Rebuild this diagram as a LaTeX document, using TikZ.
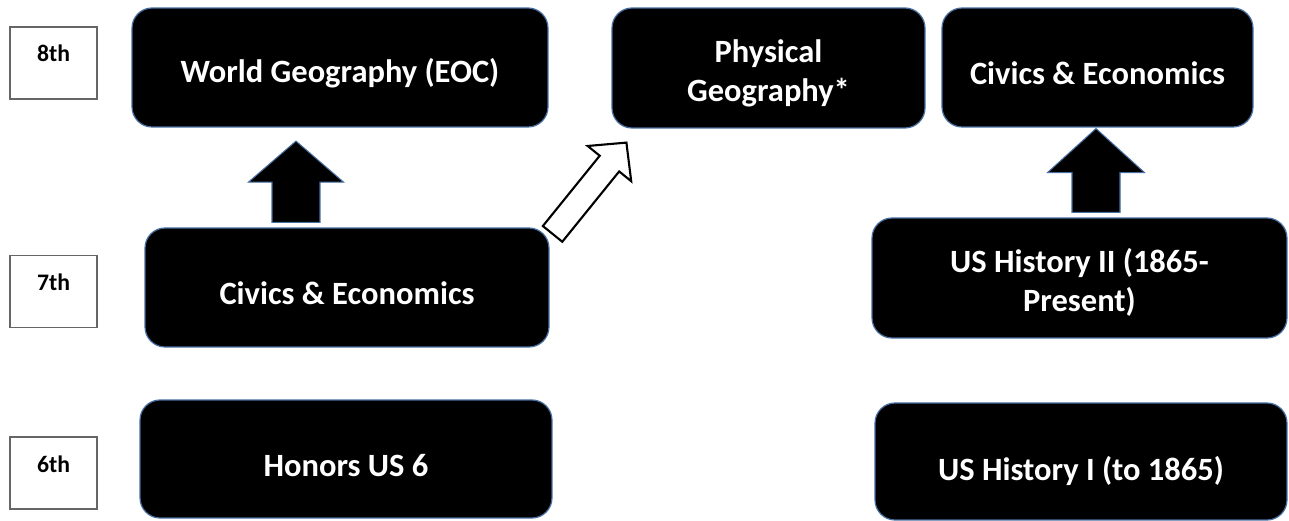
\documentclass[tikz,border=0pt]{standalone}
\usepackage{fontspec}
\setmainfont{Carlito}
\usetikzlibrary{calc}

\definecolor{edgeblue}{RGB}{70,110,160}

% style, tail, tip, half shaft, half head, head length
\newcommand{\blockarrow}[6]{%
  \coordinate (hb) at ($(#3)!#6!(#2)$);
  \draw[#1] ($(#2)!#4!90:(#3)$) -- ($(hb)!#4!90:(#3)$) -- ($(hb)!#5!90:(#3)$)
    -- (#3) -- ($(hb)!#5!-90:(#3)$) -- ($(hb)!#4!-90:(#3)$) -- ($(#2)!#4!-90:(#3)$) -- cycle;
}

\begin{document}
\begin{tikzpicture}[x=0.02cm, y=0.02cm,
  course/.style={rectangle, rounded corners=0.4cm, fill=black, draw=edgeblue, line width=0.7pt,
    text=white, align=center, inner sep=0pt,
    font=\bfseries\fontsize{18.5}{22.5}\selectfont,
    execute at begin node={\rule{0pt}{20pt}}},
  grade/.style={rectangle, draw=black!60, line width=0.8pt, fill=white,
    minimum width=1.74cm, inner xsep=0pt, inner ysep=0.3cm,
    text height=0.4cm, text depth=0.44cm,
    font=\bfseries\fontsize{13.5}{16}\selectfont}]

\useasboundingbox[fill=white] (0, 0) rectangle (1289, 521);

\node[grade] (g8) at (53.5, 458) {8th};
\node[grade] (g7) at (53.5, 229.5) {7th};
\node[grade] (g6) at (53.5, 48) {6th};

\node[course, minimum width=8.32cm, minimum height=2.38cm] (wg) at (340, 453.5) {World Geography (EOC)};
\node[course, minimum width=6.26cm, minimum height=2.40cm] (pg) at (768.5, 453) {\rule{0pt}{19pt}Physical\\Geography*};
\node[course, minimum width=6.22cm, minimum height=2.38cm] (ce8) at (1097.5, 453.5) {Civics \& Economics};

\node[course, minimum width=8.08cm, minimum height=2.38cm] (ce7) at (347, 233.5) {Civics \& Economics};
\node[course, minimum width=8.30cm, minimum height=2.40cm] (us2) at (1079.5, 243) {\rule{0pt}{19pt}US History II (1865-\\Present)};

\node[course, minimum width=8.24cm, minimum height=2.36cm] (hus6) at (346, 62) {Honors US 6};
\node[course, minimum width=8.24cm, minimum height=2.34cm] (us1) at (1081, 59.5) {\rule{0pt}{24pt}US History I (to 1865)};

\coordinate (up1a) at ([shift={(-51, 5)}]ce7.north);
\coordinate (up1b) at ([shift={(-44, -13.5)}]wg.south);
\coordinate (up2a) at ([shift={(16.5, 5)}]us2.north);
\coordinate (up2b) at ([shift={(-1.5, -1)}]ce8.south);
\coordinate (diaga) at ([shift={(3, -6.5)}]ce7.north east);
\coordinate (diagb) at ([shift={(15, -14)}]pg.south west);

\blockarrow{fill=black, draw=edgeblue, line width=0.6pt}{up1a}{up1b}{0.48cm}{0.95cm}{0.82cm}
\blockarrow{fill=black, draw=edgeblue, line width=0.6pt}{up2a}{up2b}{0.48cm}{0.97cm}{0.88cm}
\blockarrow{fill=white, draw=black, line width=1.2pt}{diaga}{diagb}{0.25cm}{0.56cm}{0.54cm}

\end{tikzpicture}
\end{document}
